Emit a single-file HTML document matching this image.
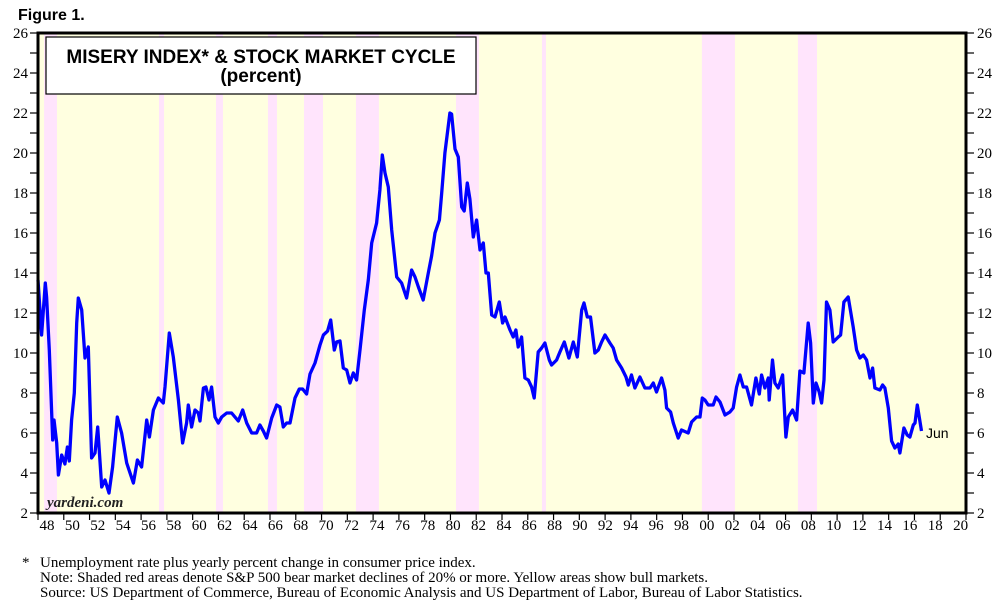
<!DOCTYPE html>
<html><head><meta charset="utf-8"><style>
html,body{margin:0;padding:0;background:#fff;}
svg{display:block;}
</style></head><body>
<svg id="chart" width="1006" height="610" viewBox="0 0 1006 610" xmlns="http://www.w3.org/2000/svg">
<text x="18" y="20" font-family="Liberation Sans, sans-serif" font-weight="bold" font-size="16">Figure 1.</text>
<g id="bands"></g>
<g id="ticks"></g>
<g id="series"></g>
<rect x="38" y="33" width="928" height="480" fill="none" stroke="#000" stroke-width="3"/>
<rect x="46" y="37" width="430" height="57" fill="#fff" stroke="#000" stroke-width="1.2"/>
<text x="261" y="63" text-anchor="middle" font-family="Liberation Sans, sans-serif" font-weight="bold" font-size="19">MISERY INDEX* &amp; STOCK MARKET CYCLE</text>
<text x="261" y="82" text-anchor="middle" font-family="Liberation Sans, sans-serif" font-weight="bold" font-size="19">(percent)</text>
<text x="47" y="507" font-family="Liberation Serif, serif" font-style="italic" font-weight="bold" font-size="15" fill="#222">yardeni.com</text>
<text x="926" y="438" font-family="Liberation Sans, sans-serif" font-size="14">Jun</text>
<text x="22" y="567" font-family="Liberation Serif, serif" font-size="15">*</text>
<text x="40" y="567" font-family="Liberation Serif, serif" font-size="15">Unemployment rate plus yearly percent change in consumer price index.</text>
<text x="40" y="582" font-family="Liberation Serif, serif" font-size="15">Note: Shaded red areas denote S&amp;P 500 bear market declines of 20% or more. Yellow areas show bull markets.</text>
<text x="40" y="597" font-family="Liberation Serif, serif" font-size="15">Source: US Department of Commerce, Bureau of Economic Analysis and US Department of Labor, Bureau of Labor Statistics.</text>
</svg>
<script>
const years = [1948.00,1948.28,1948.57,1948.67,1948.88,1949.14,1949.24,1949.45,1949.58,1949.84,1950.09,1950.28,1950.43,1950.61,1950.82,1951.00,1951.13,1951.39,1951.65,1951.90,1952.16,1952.42,1952.63,1952.94,1953.20,1953.51,1953.79,1954.15,1954.49,1954.88,1955.40,1955.71,1956.04,1956.43,1956.64,1956.95,1957.34,1957.72,1957.85,1958.19,1958.50,1958.89,1959.22,1959.53,1959.66,1959.92,1960.18,1960.44,1960.57,1960.83,1961.03,1961.27,1961.47,1961.73,1961.99,1962.25,1962.64,1963.02,1963.54,1963.88,1964.19,1964.58,1964.96,1965.22,1965.48,1965.74,1966.13,1966.52,1966.77,1967.03,1967.29,1967.55,1967.94,1968.27,1968.53,1968.84,1969.10,1969.49,1969.88,1970.14,1970.47,1970.71,1970.99,1971.17,1971.43,1971.69,1971.95,1972.21,1972.46,1972.72,1972.98,1973.32,1973.63,1973.89,1974.27,1974.53,1974.71,1974.92,1975.18,1975.44,1975.83,1976.21,1976.60,1976.99,1977.25,1977.51,1977.89,1978.28,1978.54,1978.80,1979.14,1979.32,1979.57,1979.96,1980.09,1980.35,1980.61,1980.87,1981.07,1981.31,1981.51,1981.77,1982.03,1982.29,1982.55,1982.76,1982.94,1983.20,1983.46,1983.79,1984.05,1984.23,1984.62,1984.87,1985.08,1985.26,1985.52,1985.78,1986.04,1986.30,1986.50,1986.81,1987.07,1987.33,1987.67,1987.85,1988.24,1988.49,1988.83,1989.19,1989.53,1989.84,1990.18,1990.36,1990.62,1990.87,1991.21,1991.47,1991.73,1991.99,1992.37,1992.63,1992.89,1993.28,1993.62,1993.80,1994.05,1994.31,1994.70,1995.09,1995.48,1995.74,1995.99,1996.38,1996.64,1996.77,1997.08,1997.29,1997.67,1997.93,1998.45,1998.71,1999.10,1999.36,1999.54,1999.74,2000.00,2000.39,2000.60,2000.91,2001.30,2001.68,2001.94,2002.20,2002.46,2002.72,2002.98,2003.36,2003.70,2003.96,2004.14,2004.40,2004.66,2004.73,2004.99,2005.17,2005.43,2005.77,2006.03,2006.21,2006.55,2006.86,2007.11,2007.42,2007.76,2007.94,2008.15,2008.36,2008.61,2008.80,2008.98,2009.18,2009.44,2009.70,2010.09,2010.27,2010.53,2010.86,2011.25,2011.51,2011.77,2012.03,2012.29,2012.55,2012.75,2012.93,2013.32,2013.53,2013.71,2013.97,2014.23,2014.48,2014.74,2014.87,2015.18,2015.44,2015.65,2015.91,2016.04,2016.22,2016.55];
const misery = [13.65,10.9,13.5,12.8,10.15,5.65,6.65,5.5,3.9,4.9,4.45,5.3,4.6,6.65,8,11.5,12.75,12.15,9.75,10.3,4.75,5,6.3,3.3,3.65,3,4.3,6.8,6,4.5,3.5,4.65,4.3,6.65,5.8,7.15,7.75,7.5,8.3,11,9.8,7.65,5.5,6.5,7.4,6.3,7.15,7,6.6,8.25,8.3,7.65,8.3,6.8,6.5,6.8,7,7,6.6,7.15,6.5,6,6,6.4,6.1,5.75,6.75,7.4,7.3,6.3,6.5,6.5,7.75,8.2,8.2,7.95,8.95,9.5,10.4,10.9,11.1,11.65,10.15,10.55,10.6,9.25,9.15,8.5,9,8.65,10.15,12.15,13.65,15.5,16.5,18.15,19.9,19,18.3,16.15,13.8,13.5,12.75,14.15,13.8,13.3,12.65,14,14.85,16,16.65,18,20,22,21.95,20.2,19.8,17.3,17.1,18.5,17.7,15.8,16.65,15.15,15.5,14,14,11.9,11.8,12.55,11.5,11.8,11.15,10.8,11.15,10.3,10.8,8.75,8.65,8.3,7.75,10.05,10.25,10.5,9.65,9.4,9.65,10.05,10.55,9.75,10.55,9.8,12.15,12.5,11.8,11.8,10,10.15,10.55,10.9,10.5,10.25,9.65,9.25,8.8,8.4,8.9,8.25,8.8,8.25,8.25,8.5,8.05,8.75,8.15,7.25,7.05,6.5,5.75,6.15,6,6.55,6.8,6.8,7.75,7.65,7.4,7.4,7.8,7.55,6.9,7.05,7.25,8.3,8.9,8.3,8.3,7.4,8.75,7.95,8.9,8.25,8.75,7.65,9.65,8.5,8.25,8.9,5.8,6.8,7.15,6.65,9.1,9.0,11.5,10.5,7.5,8.5,8.05,7.5,8.65,12.55,12.15,10.55,10.8,10.9,12.55,12.8,11.3,10.15,9.75,9.9,9.65,8.75,9.25,8.25,8.15,8.4,8.25,7.25,5.6,5.25,5.45,5.0,6.25,5.9,5.8,6.4,6.5,7.4,6.1];
const bearStarts = [1948.47,1957.39,1961.81,1965.84,1968.64,1972.67,1980.43,1987.10,1999.51,2006.96];
const bearEnds   = [1949.47,1957.78,1962.35,1966.54,1970.11,1974.45,1982.21,1987.41,2002.07,2008.44];
const yTicks = [2,4,6,8,10,12,14,16,18,20,22,24,26];
const xTickYears = [1948,1950,1952,1954,1956,1958,1960,1962,1964,1966,1968,1970,1972,1974,1976,1978,1980,1982,1984,1986,1988,1990,1992,1994,1996,1998,2000,2002,2004,2006,2008,2010,2012,2014,2016,2018,2020];

const NS='http://www.w3.org/2000/svg';
const X0=38,X1=966,Y0=513,Y1=33,T0=1948,T1=2020,V0=2,V1=26;
function xs(t){return X0+(t-T0)*(X1-X0)/(T1-T0);}
function xl(t){return 47+(t-T0)*12.69;}
function ys(v){return Y0-(v-V0)*(Y0-Y1)/(V1-V0);}
function mk(tag,attrs,parent){const e=document.createElementNS(NS,tag);for(const k in attrs)e.setAttribute(k,attrs[k]);parent.appendChild(e);return e;}

const bands=document.getElementById('bands');
const bg=mk('rect',{x:X0,y:Y1,width:X1-X0,height:Y0-Y1,fill:'#FFFFE0'},bands);


for(let i=0;i<bearStarts.length;i++){
  const r=mk('rect',{x:xs(bearStarts[i]),y:Y1,width:xs(bearEnds[i])-xs(bearStarts[i]),height:Y0-Y1,fill:'#FFE4FC'},bands);
  
  
}

const tg=document.getElementById('ticks');
for(let v=V0;v<=V1;v++){
  const y=ys(v);
  const l1=mk('line',{x1:30,x2:X0,y1:y,y2:y,stroke:'#000','stroke-width':1.2},tg);
  
  
  const l2=mk('line',{x1:X1,x2:974,y1:y,y2:y,stroke:'#000','stroke-width':1.2},tg);
  
  
}
yTicks.forEach(v=>{
  const a=mk('text',{x:28,y:ys(v)+5,'text-anchor':'end','font-family':'Liberation Serif, serif','font-size':15},tg);
  a.textContent=v;
  
  
  const b=mk('text',{x:977,y:ys(v)+5,'font-family':'Liberation Serif, serif','font-size':15},tg);
  b.textContent=v;
  
  
});
xTickYears.forEach(t=>{
  const x=xs(t);
  const l=mk('line',{x1:x,x2:x,y1:Y0,y2:Y0+7,stroke:'#000','stroke-width':1.2},tg);
  
  
  const s=mk('text',{x:xl(t),y:530,'text-anchor':'middle','font-family':'Liberation Serif, serif','font-size':15},tg);
  s.textContent=String(t%100).padStart(2,'0');
  
  
});

const sg=document.getElementById('series');
let d='';
years.forEach((t,i)=>{d+=(i?'L':'M')+xs(t).toFixed(1)+','+ys(misery[i]).toFixed(1);});
const p=mk('path',{d:d,fill:'none',stroke:'#0000FF','stroke-width':3.3,'stroke-linejoin':'round'},sg);


</script>
</body></html>
